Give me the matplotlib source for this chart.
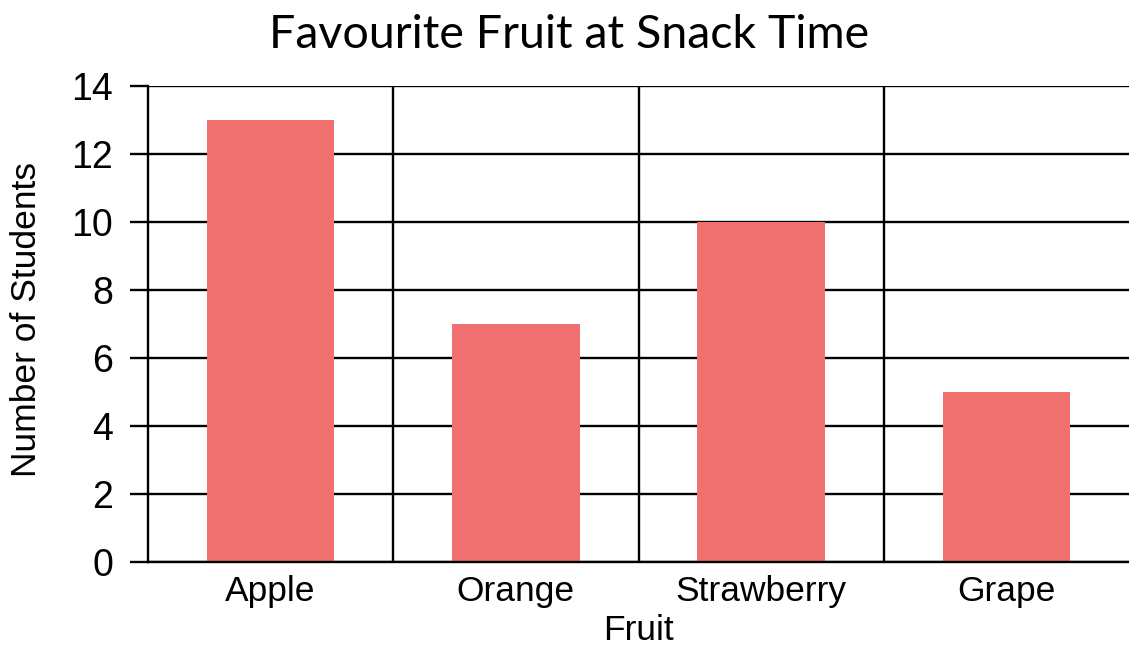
import numpy as np
import matplotlib.pyplot as plt

# data
fruits = ['Apple', 'Orange', 'Strawberry', 'Grape']
students = [13, 7, 10, 5]
y_ticks = [0, 2, 4, 6, 8, 10, 12, 14]

bar_color = '#f07070'
line_w = 1.7

plt.rcParams['font.family'] = ['Liberation Sans', 'DejaVu Sans']

fig = plt.figure(figsize=(11.29, 6.5), dpi=100)
ax = fig.add_axes([148 / 1129, 88 / 650, 1 - 148 / 1129, (562 - 86) / 650])

x = np.arange(len(fruits))
ax.bar(x, students, width=0.52, color=bar_color, zorder=3)

# category separators and horizontal grid
for b in x[:-1] + 0.5:
    ax.axvline(b, color='black', lw=line_w, zorder=1)
ax.set_yticks(y_ticks)
ax.yaxis.grid(True, color='black', lw=line_w, zorder=1)
ax.set_axisbelow(True)

ax.set_xlim(-0.5, len(fruits) - 0.5)
ax.set_ylim(0, 14)
ax.set_xticks(x)
ax.set_xticklabels(fruits)

for s in ['top', 'right']:
    ax.spines[s].set_visible(False)
for s in ['left', 'bottom']:
    ax.spines[s].set_linewidth(line_w)
    ax.spines[s].set_zorder(4)

ax.tick_params(axis='y', labelsize=27, length=13, width=line_w, pad=12)
ax.tick_params(axis='x', labelsize=25.5, length=0, pad=9)

ax.set_xlabel('Fruit', fontsize=25.5, labelpad=5)
ax.set_ylabel('Number of Students', fontsize=25.5)
ax.yaxis.set_label_coords(-0.107, 0.51)

fig.text(569 / 1129, 1 - 35 / 650, 'Favourite Fruit at Snack Time',
         fontsize=33.5, family=['Lato', 'DejaVu Sans'], ha='center', va='center')

fig.savefig('out.png', dpi=100, facecolor='white')
